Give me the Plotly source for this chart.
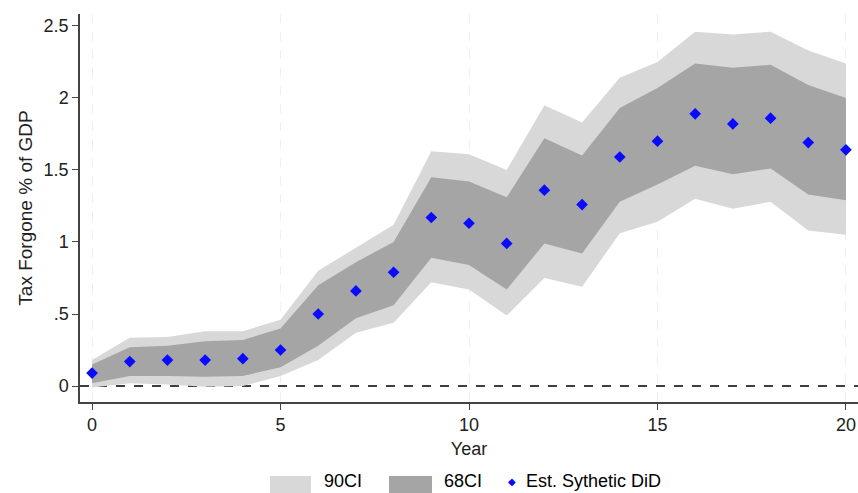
import plotly.graph_objects as go

# Event-time axis (years since treatment)
years = list(range(0, 21))

# Point estimates of tax forgone (% of GDP)
estimate = [0.09, 0.17, 0.18, 0.18, 0.19, 0.25, 0.50, 0.66, 0.79, 1.17, 1.13,
            0.99, 1.36, 1.26, 1.59, 1.70, 1.89, 1.82, 1.86, 1.69, 1.64]

# 68% confidence band
ci68_low = [0.02, 0.07, 0.07, 0.065, 0.07, 0.13, 0.28, 0.47, 0.56, 0.89, 0.84,
            0.67, 0.99, 0.92, 1.28, 1.40, 1.53, 1.47, 1.51, 1.33, 1.29]
ci68_high = [0.15, 0.27, 0.28, 0.31, 0.32, 0.40, 0.70, 0.86, 1.00, 1.45, 1.42,
             1.31, 1.72, 1.60, 1.93, 2.07, 2.24, 2.21, 2.23, 2.09, 2.00]

# 90% confidence band
ci90_low = [-0.01, 0.02, 0.01, -0.005, 0.0, 0.07, 0.18, 0.37, 0.44, 0.72, 0.67,
            0.49, 0.75, 0.69, 1.06, 1.14, 1.30, 1.23, 1.28, 1.08, 1.05]
ci90_high = [0.18, 0.335, 0.34, 0.38, 0.38, 0.46, 0.80, 0.96, 1.12, 1.63, 1.61,
             1.50, 1.95, 1.83, 2.14, 2.25, 2.46, 2.44, 2.46, 2.33, 2.24]

y_ticks = [0, 0.5, 1, 1.5, 2, 2.5]
y_tick_labels = ["0", ".5", "1", "1.5", "2", "2.5"]
x_ticks = [0, 5, 10, 15, 20]

LIGHT = "#d8d8d8"
DARK = "#a5a5a5"
BLUE = "#0a0aff"
FONT = "Arial, Liberation Sans, sans-serif"

fig = go.Figure()

fig.add_trace(go.Scatter(x=years, y=ci90_low, mode="lines", line=dict(width=0),
                         showlegend=False, hoverinfo="skip"))
fig.add_trace(go.Scatter(x=years, y=ci90_high, mode="lines", line=dict(width=0),
                         fill="tonexty", fillcolor=LIGHT, name="90CI",
                         showlegend=False))
fig.add_trace(go.Scatter(x=years, y=ci68_low, mode="lines", line=dict(width=0),
                         showlegend=False, hoverinfo="skip"))
fig.add_trace(go.Scatter(x=years, y=ci68_high, mode="lines", line=dict(width=0),
                         fill="tonexty", fillcolor=DARK, name="68CI",
                         showlegend=False))
fig.add_trace(go.Scatter(x=years, y=estimate, mode="markers",
                         marker=dict(symbol="diamond", size=9, color=BLUE),
                         name="Est. Sythetic DiD", showlegend=False))

# Zero reference line
fig.add_shape(type="line", xref="paper", x0=0, x1=1, yref="y", y0=0, y1=0,
              line=dict(color="black", width=1.6, dash="dash"), layer="below")

# Legend row drawn below the axes
def px_x(p):
    return (p - 80) / 778.0

def px_y(p):
    return (402 - p) / 388.0

fig.add_shape(type="rect", xref="paper", yref="paper",
              x0=px_x(270), x1=px_x(311), y0=px_y(476), y1=px_y(495),
              fillcolor=LIGHT, line=dict(width=0))
fig.add_shape(type="rect", xref="paper", yref="paper",
              x0=px_x(389), x1=px_x(432), y0=px_y(476), y1=px_y(495),
              fillcolor=DARK, line=dict(width=0))
legend_text = [(322, "90CI"), (442, "68CI"), (524, "Est. Sythetic DiD")]
for xpos, txt in legend_text:
    fig.add_annotation(xref="paper", yref="paper", x=px_x(xpos), y=px_y(493),
                       text=txt, showarrow=False, xanchor="left", yanchor="bottom",
                       font=dict(family=FONT, size=18, color="black"))
fig.add_annotation(xref="paper", yref="paper", x=px_x(512), y=px_y(481),
                   text="◆", showarrow=False, xanchor="center", yanchor="middle",
                   font=dict(family=FONT, size=10, color=BLUE))

fig.update_layout(
    width=858, height=493,
    margin=dict(l=80, r=0, t=14, b=91),
    paper_bgcolor="white", plot_bgcolor="white",
    font=dict(family=FONT, size=18, color="#222"),
    showlegend=False,
    xaxis=dict(range=[-0.32, 20.32], tickvals=x_ticks, ticks="outside",
               ticklen=6, tickcolor="#444", showline=True, linecolor="#444",
               linewidth=1.5, showgrid=True, gridcolor="#efefef", griddash="dash",
               gridwidth=1, zeroline=False,
               title=dict(text="Year", font=dict(size=18), standoff=8)),
    yaxis=dict(range=[-0.111, 2.583], tickvals=y_ticks, ticktext=y_tick_labels,
               ticks="outside", ticklen=6, tickcolor="#444", showline=True,
               linecolor="#444", linewidth=1.5, showgrid=False, zeroline=False,
               title=dict(text="Tax Forgone % of GDP", font=dict(size=19),
                          standoff=6)),
)

fig.write_html("out.html")
